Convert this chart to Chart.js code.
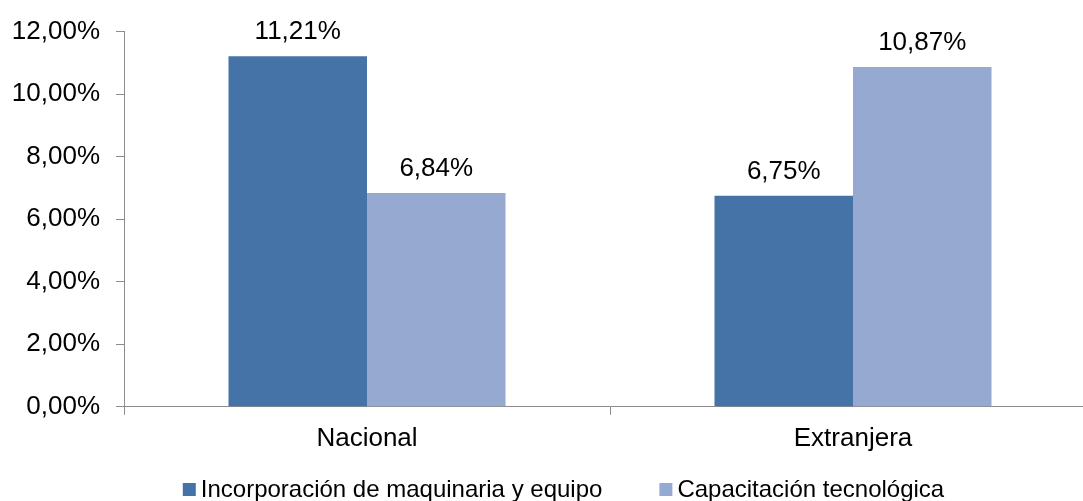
<!DOCTYPE html>
<html>
<head>
<meta charset="utf-8">
<script src="https://cdn.jsdelivr.net/npm/chart.js@4"></script>
<style>
  html, body { margin: 0; padding: 0; background: #fff; overflow: hidden; }
  #wrap { width: 1083px; height: 501px; overflow: hidden; }
  canvas { display: block; }
</style>
</head>
<body>
<div id="wrap"><canvas id="chart" width="1127" height="501"></canvas></div>
<script>
const categories = ['Nacional', 'Extranjera'];
const seriesNames = ['Incorporación de maquinaria y equipo', 'Capacitación tecnológica'];
const maquinaria = [11.21, 6.75];
const capacitacion = [6.84, 10.87];
const yMin = 0, yMax = 12, yStep = 2;

const colors = ['#4573A7', '#95A9D1'];
const axisColor = '#8C8C8C';
const FONT = '"Liberation Sans", Arial, sans-serif';

const fmt = v => v.toFixed(2).replace('.', ',') + '%';

// Value labels above every bar
const valueLabels = {
  id: 'valueLabels',
  afterDatasetsDraw(chart) {
    const ctx = chart.ctx;
    ctx.save();
    ctx.font = '26px ' + FONT;
    ctx.fillStyle = '#000';
    ctx.textAlign = 'center';
    ctx.textBaseline = 'alphabetic';
    chart.data.datasets.forEach((ds, i) => {
      chart.getDatasetMeta(i).data.forEach((bar, j) => {
        ctx.fillText(fmt(ds.data[j]), bar.x, bar.y - 17);
      });
    });
    ctx.restore();
  }
};

// Legend row under the category labels
const bottomLegend = {
  id: 'bottomLegend',
  afterDraw(chart) {
    const ctx = chart.ctx;
    const box = 13, gap = 5, itemGap = 57;
    ctx.save();
    ctx.font = '24px ' + FONT;
    const items = chart.data.datasets.map(ds => ({
      text: ds.label, color: ds.backgroundColor, w: ctx.measureText(ds.label).width
    }));
    const total = items.reduce((s, it) => s + box + gap + it.w, 0) + itemGap * (items.length - 1);
    let x = chart.width / 2 - total / 2;
    const cy = chart.height - 11;
    items.forEach(it => {
      ctx.fillStyle = it.color;
      ctx.fillRect(x, cy - box / 2 - 0.5, box, box);
      ctx.fillStyle = '#000';
      ctx.textAlign = 'left';
      ctx.textBaseline = 'middle';
      ctx.fillText(it.text, x + box + gap, cy);
      x += box + gap + it.w + itemGap;
    });
    ctx.restore();
  }
};

new Chart(document.getElementById('chart'), {
  type: 'bar',
  data: {
    labels: categories,
    datasets: [
      { label: seriesNames[0], data: maquinaria, backgroundColor: colors[0], borderWidth: 0 },
      { label: seriesNames[1], data: capacitacion, backgroundColor: colors[1], borderWidth: 0 }
    ]
  },
  options: {
    responsive: false,
    animation: false,
    devicePixelRatio: 1,
    layout: { padding: { top: 28, right: 31, bottom: 39, left: 0 } },
    datasets: { bar: { categoryPercentage: 0.57, barPercentage: 1 } },
    plugins: { legend: { display: false }, tooltip: { enabled: false } },
    scales: {
      x: {
        grid: { display: true, offset: true, drawOnChartArea: false, drawTicks: true, tickLength: 8, color: axisColor, lineWidth: 1 },
        border: { display: true, color: axisColor, width: 1 },
        ticks: { color: '#000', padding: 8, font: { family: FONT, size: 26 } }
      },
      y: {
        min: yMin, max: yMax,
        afterFit(scale) { scale.width = 124; },
        grid: { display: true, drawOnChartArea: false, drawTicks: true, tickLength: 8, color: axisColor, lineWidth: 1 },
        border: { display: true, color: axisColor, width: 1 },
        ticks: { stepSize: yStep, color: '#000', padding: 16, font: { family: FONT, size: 26 }, callback: v => fmt(v) }
      }
    }
  },
  plugins: [valueLabels, bottomLegend]
});
</script>
</body>
</html>
